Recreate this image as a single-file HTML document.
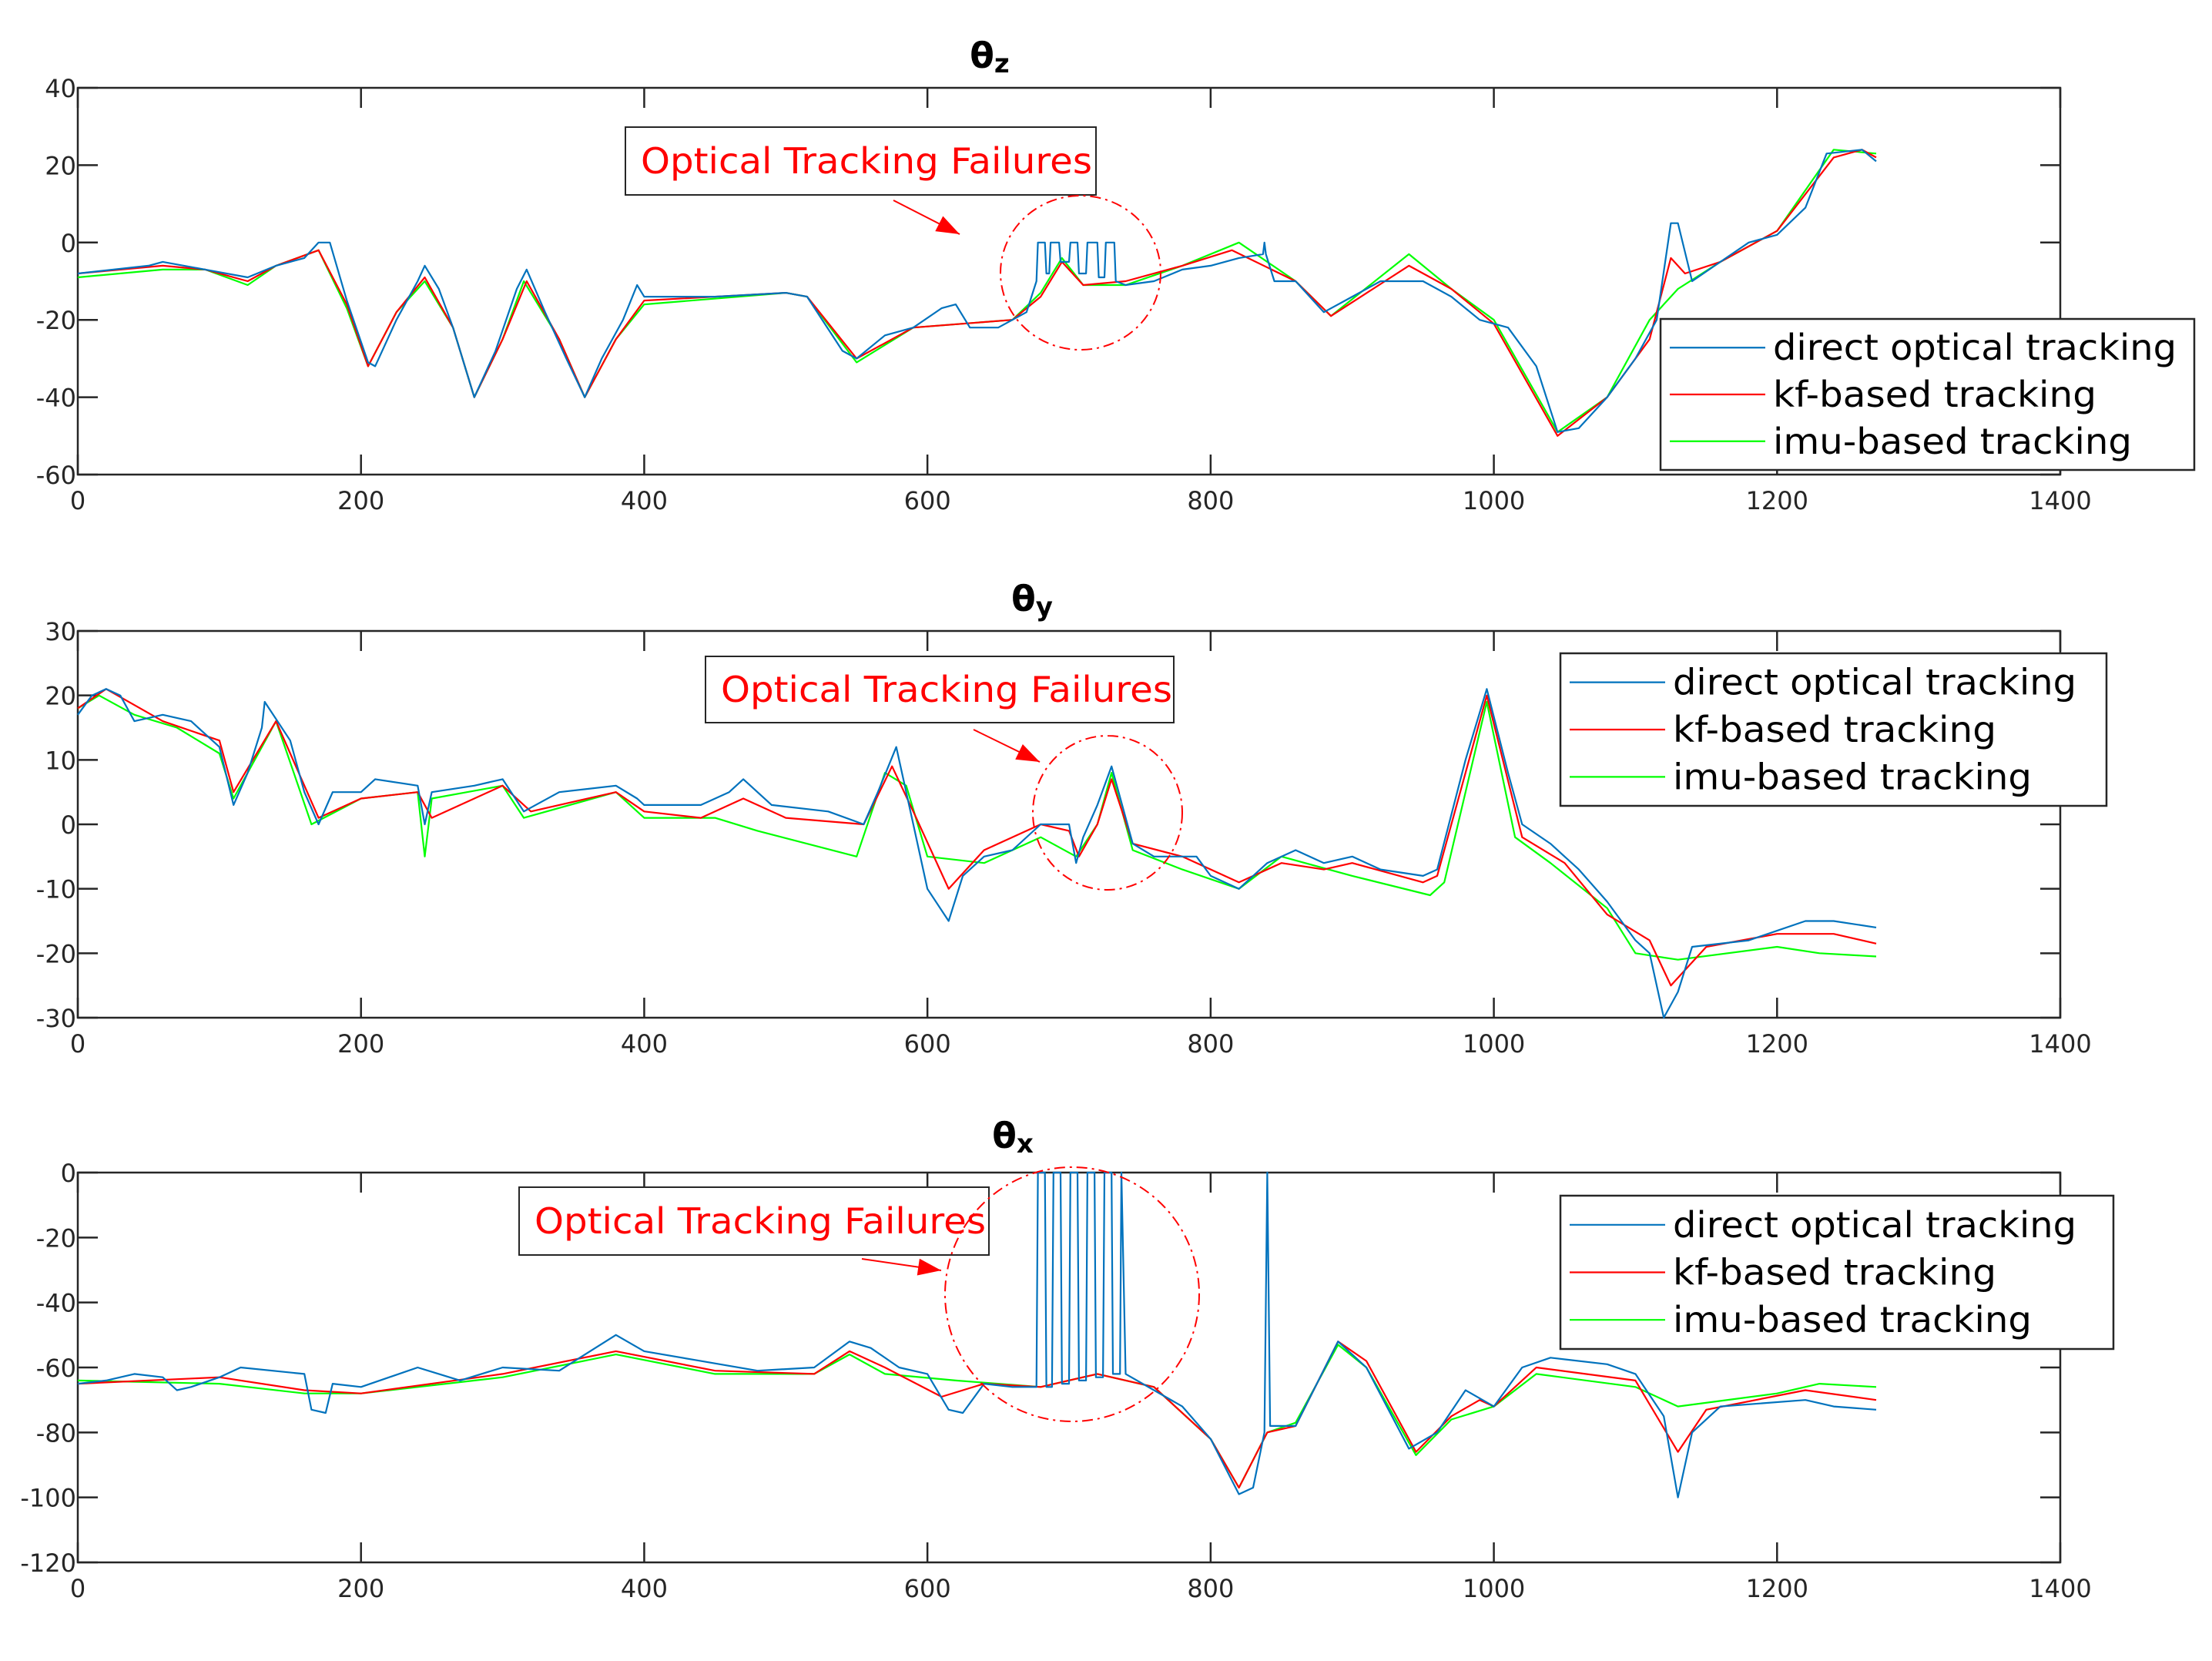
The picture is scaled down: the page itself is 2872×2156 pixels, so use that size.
<!DOCTYPE html>
<html><head><meta charset="utf-8"><style>
body{margin:0;background:#fff;width:2872px;height:2156px;overflow:hidden}
svg{display:block;font-family:"DejaVu Sans","Liberation Sans",sans-serif}
</style></head><body>
<svg id="fig" width="2872" height="2156" viewBox="0 0 2872 2156"></svg>
<script>
// ---- data ----
const xTicks=[0,200,400,600,800,1000,1200,1400];
const zTicks=[40,20,0,-20,-40,-60];
const yTicks=[30,20,10,0,-10,-20,-30];
const xTicksB=[0,-20,-40,-60,-80,-100,-120];
const seriesNames=["direct optical tracking","kf-based tracking","imu-based tracking"];

const zBlueX=[0,50,60,90,120,140,160,170,178,190,205,210,225,240,245,255,265,280,295,310,317,330,345,358,370,385,395,400,450,500,515,540,550,570,590,610,620,630,650,670,677,678,683,684,686,687,693,694,700,701,706,707,712,713,720,721,725,726,732,733,740,760,780,800,820,837,838,839,845,860,880,900,920,950,970,990,1010,1030,1045,1060,1080,1100,1115,1125,1130,1140,1160,1180,1200,1220,1235,1260,1270];
const zBlueY=[-8,-6,-5,-7,-9,-6,-4,0,0,-15,-31,-32,-20,-10,-6,-12,-22,-40,-28,-12,-7,-18,-30,-40,-30,-20,-11,-14,-14,-13,-14,-28,-30,-24,-22,-17,-16,-22,-22,-18,-10,0,0,-8,-8,0,0,-5,-5,0,0,-8,-8,0,0,-9,-9,0,0,-10,-11,-10,-7,-6,-4,-3,0,-3,-10,-10,-18,-14,-10,-10,-14,-20,-22,-32,-49,-48,-40,-30,-20,5,5,-10,-5,0,2,9,23,24,21];
const zRedX=[0,60,90,120,140,170,190,205,225,245,265,280,300,317,340,358,380,400,500,515,550,590,660,680,695,710,740,780,815,860,885,940,970,1000,1045,1080,1110,1125,1135,1160,1200,1240,1260,1270];
const zRedY=[-8,-6,-7,-10,-6,-2,-16,-32,-18,-9,-22,-40,-25,-10,-25,-40,-25,-15,-13,-14,-30,-22,-20,-14,-5,-11,-10,-6,-2,-10,-19,-6,-12,-21,-50,-40,-25,-4,-8,-5,3,22,24,22];
const zGreenX=[0,60,90,120,140,170,190,205,225,245,265,280,300,315,340,358,380,400,500,515,550,590,660,680,695,710,740,780,820,860,885,940,970,1000,1045,1080,1110,1130,1160,1200,1240,1270];
const zGreenY=[-9,-7,-7,-11,-6,-2,-17,-32,-18,-10,-22,-40,-25,-10,-25,-40,-25,-16,-13,-14,-31,-22,-20,-13,-4,-11,-11,-6,0,-10,-19,-3,-12,-20,-49,-40,-20,-12,-5,3,24,23];

const yBlueX=[0,10,20,30,40,60,80,100,110,120,130,132,150,160,170,180,200,210,240,245,250,280,300,315,340,380,395,400,440,460,470,490,530,555,565,578,590,600,615,625,640,660,680,700,705,710,720,730,735,745,760,790,800,820,840,860,880,900,920,950,960,980,995,1010,1020,1040,1060,1080,1100,1110,1120,1130,1140,1180,1220,1240,1270];
const yBlueY=[17,20,21,20,16,17,16,12,3,8,15,19,13,5,0,5,5,7,6,0,5,6,7,2,5,6,4,3,3,5,7,3,2,0,5,12,0,-10,-15,-8,-5,-4,0,0,-6,-2,3,9,5,-3,-5,-5,-8,-10,-6,-4,-6,-5,-7,-8,-7,10,21,8,0,-3,-7,-12,-18,-20,-30,-26,-19,-18,-15,-15,-16];
const yRedX=[0,20,60,100,110,140,170,200,240,250,300,320,380,400,440,470,500,555,575,590,615,640,680,700,707,720,730,745,780,820,850,880,900,950,960,995,1020,1050,1080,1110,1125,1150,1200,1240,1270];
const yRedY=[18,21,16,13,5,16,1,4,5,1,6,2,5,2,1,4,1,0,9,2,-10,-4,0,-1,-5,0,7,-3,-5,-9,-6,-7,-6,-9,-8,20,-2,-6,-14,-18,-25,-19,-17,-17,-18.5];
const yGreenX=[0,15,40,70,100,110,140,165,200,240,245,250,300,315,380,400,450,480,550,570,585,600,640,680,705,720,730,745,780,820,850,900,955,965,995,1015,1040,1080,1100,1130,1200,1230,1270];
const yGreenY=[18,20,17,15,11,4,16,0,4,5,-5,4,6,1,5,1,1,-1,-5,8,6,-5,-6,-2,-5,0,8,-4,-7,-10,-5,-8,-11,-9,19,-2,-6,-13,-20,-21,-19,-20,-20.5];

const xBlueX=[0,20,40,60,70,80,100,115,160,165,175,180,200,240,270,300,340,380,400,440,480,520,545,560,580,600,615,625,640,660,677,678,683,684,688,689,694,695,700,701,706,707,712,713,718,719,724,725,730,731,736,737,740,780,800,820,830,838,840,842,860,890,910,940,960,980,1000,1020,1040,1080,1100,1120,1130,1140,1160,1220,1240,1270];
const xBlueY=[-65,-64,-62,-63,-67,-66,-63,-60,-62,-73,-74,-65,-66,-60,-64,-60,-61,-50,-55,-58,-61,-60,-52,-54,-60,-62,-73,-74,-65,-66,-66,0,0,-66,-66,0,0,-65,-65,0,0,-64,-64,0,0,-63,-63,0,0,-62,-62,0,-62,-72,-82,-99,-97,-80,0,-78,-78,-52,-60,-85,-80,-67,-72,-60,-57,-59,-62,-75,-100,-80,-72,-70,-72,-73];
const xRedX=[0,100,160,200,300,380,450,520,545,570,610,640,680,720,760,800,820,840,860,890,910,945,970,990,1000,1030,1100,1130,1150,1220,1270];
const xRedY=[-65,-63,-67,-68,-62,-55,-61,-62,-55,-60,-69,-65,-66,-62,-66,-82,-97,-80,-78,-52,-58,-86,-75,-70,-72,-60,-64,-86,-73,-67,-70];
const xGreenX=[0,100,160,200,300,380,450,520,545,570,620,680,720,760,800,820,840,860,890,910,945,970,1000,1030,1100,1130,1200,1230,1270];
const xGreenY=[-64,-65,-68,-68,-63,-56,-62,-62,-56,-62,-64,-66,-62,-66,-82,-97,-80,-77,-53,-60,-87,-76,-72,-62,-66,-72,-68,-65,-66];

// ---- drawing ----
const NS="http://www.w3.org/2000/svg";
const svg=document.getElementById('fig');
function mk(tag,attrs,parent){const e=document.createElementNS(NS,tag);for(const k in attrs)e.setAttribute(k,attrs[k]);(parent||svg).appendChild(e);return e;}
const X0=101,X1=2675;
function sx(v){return X0+(v-0)/1400*(X1-X0);}
const colors=["#0072BD","#FF0000","#00FF00"];
const legLens=[524,420,466];

function panel(cfg){
  const g=mk('g',{});
  
  
  const sy=v=>cfg.y0+(cfg.ymax-v)/(cfg.ymax-cfg.ymin)*(cfg.y1-cfg.y0);
  const ax=mk('rect',{x:X0,y:cfg.y0,width:X1-X0,height:cfg.y1-cfg.y0,fill:'none',stroke:'#262626','stroke-width':2.5},g);
  
  
  xTicks.forEach(t=>{
    const x=sx(t);
    mk('line',{x1:x,y1:cfg.y1,x2:x,y2:cfg.y1-26,stroke:'#262626','stroke-width':2.5},g);
    mk('line',{x1:x,y1:cfg.y0,x2:x,y2:cfg.y0+26,stroke:'#262626','stroke-width':2.5},g);
    const tx=mk('text',{x:x,y:cfg.y1+45,'text-anchor':'middle','font-size':32,fill:'#262626'},g);
    tx.textContent=t;
    
    
  });
  cfg.ticks.forEach(t=>{
    const y=sy(t);
    mk('line',{x1:X0,y1:y,x2:X0+26,y2:y,stroke:'#262626','stroke-width':2.5},g);
    mk('line',{x1:X1,y1:y,x2:X1-26,y2:y,stroke:'#262626','stroke-width':2.5},g);
    const tx=mk('text',{x:X0-2,y:y+12,'text-anchor':'end','font-size':32,fill:'#262626'},g);
    tx.textContent=t;
    
    
  });
  const ti=mk('text',{x:cfg.tx,y:cfg.ty,'text-anchor':'middle','font-size':46,'font-weight':'bold',fill:'#000'},g);
  ti.innerHTML='θ<tspan font-size="34" dy="6">'+cfg.sub+'</tspan>';
  
  
  const order=[2,1,0];
  order.forEach(i=>{
    const xs=cfg.series[i][0],ys=cfg.series[i][1];
    const d=xs.map((v,j)=>(j?'L':'M')+sx(v).toFixed(1)+' '+sy(ys[j]).toFixed(1)).join(' ');
    const p=mk('path',{d:d,fill:'none',stroke:colors[i],'stroke-width':2.2,'stroke-linejoin':'round'},g);
    
    
  });
  const a=cfg.ann;
  const box=mk('rect',{x:a.bx,y:a.by,width:a.bw,height:a.bh,fill:'#fff',stroke:'#262626','stroke-width':2},g);
  
  
  const at=mk('text',{x:a.bx+20,y:a.by+a.bh/2+16,'font-size':46,fill:'#FF0000',textLength:586,lengthAdjust:'spacingAndGlyphs'},g);
  at.textContent='Optical Tracking Failures';
  
  
  const ar=mk('line',{x1:a.ax1,y1:a.ay1,x2:a.ax2,y2:a.ay2,stroke:'#FF0000','stroke-width':2},g);
  
  
  const ang=Math.atan2(a.ay2-a.ay1,a.ax2-a.ax1),L=30,W=11;
  const bxp=a.ax2-L*Math.cos(ang),byp=a.ay2-L*Math.sin(ang);
  mk('polygon',{points:`${a.ax2},${a.ay2} ${bxp-W*Math.sin(ang)},${byp+W*Math.cos(ang)} ${bxp+W*Math.sin(ang)},${byp-W*Math.cos(ang)}`,fill:'#FF0000'},g);
  const c=mk('ellipse',{cx:a.cx,cy:a.cy,rx:a.rx,ry:a.ry,fill:'none',stroke:'#FF0000','stroke-width':2,'stroke-dasharray':'14 6 3 6'},g);
  
  
  const l=cfg.leg;
  const lg=mk('g',{},g);
  
  
  mk('rect',{x:l.x,y:l.y,width:l.w,height:l.h,fill:'#fff',stroke:'#262626','stroke-width':2.5},lg);
  seriesNames.forEach((n,i)=>{
    const yy=l.y+l.h*(0.19+0.31*i);
    mk('line',{x1:l.x+12,y1:yy,x2:l.x+136,y2:yy,stroke:colors[i],'stroke-width':2.2},lg);
    const t=mk('text',{x:l.x+146,y:yy+16,'font-size':46,fill:'#000',textLength:legLens[i],lengthAdjust:'spacingAndGlyphs'},lg);
    t.textContent=n;
    
    
  });
}

panel({name:'theta-z-panel',y0:114,y1:616,ymax:40,ymin:-60,ticks:zTicks,sub:'z',tx:1285,ty:88,
 series:[[zBlueX,zBlueY],[zRedX,zRedY],[zGreenX,zGreenY]],
 ann:{bx:812,by:165,bw:611,bh:88,ax1:1160,ay1:260,ax2:1246,ay2:304,cx:1403,cy:354,rx:104,ry:100},
 leg:{x:2156,y:414,w:693,h:196}});
panel({name:'theta-y-panel',y0:819,y1:1321,ymax:30,ymin:-30,ticks:yTicks,sub:'y',tx:1340,ty:793,
 series:[[yBlueX,yBlueY],[yRedX,yRedY],[yGreenX,yGreenY]],
 ann:{bx:916,by:852,bw:608,bh:86,ax1:1264,ay1:947,ax2:1350,ay2:989,cx:1438,cy:1055,rx:97,ry:100},
 leg:{x:2026,y:848,w:709,h:198}});
panel({name:'theta-x-panel',y0:1522,y1:2028,ymax:0,ymin:-120,ticks:xTicksB,sub:'x',tx:1315,ty:1490,
 series:[[xBlueX,xBlueY],[xRedX,xRedY],[xGreenX,xGreenY]],
 ann:{bx:674,by:1541,bw:610,bh:88,ax1:1119,ay1:1634,ax2:1222,ay2:1649,cx:1392,cy:1680,rx:165,ry:165},
 leg:{x:2026,y:1552,w:718,h:199}});
</script>
</body></html>
